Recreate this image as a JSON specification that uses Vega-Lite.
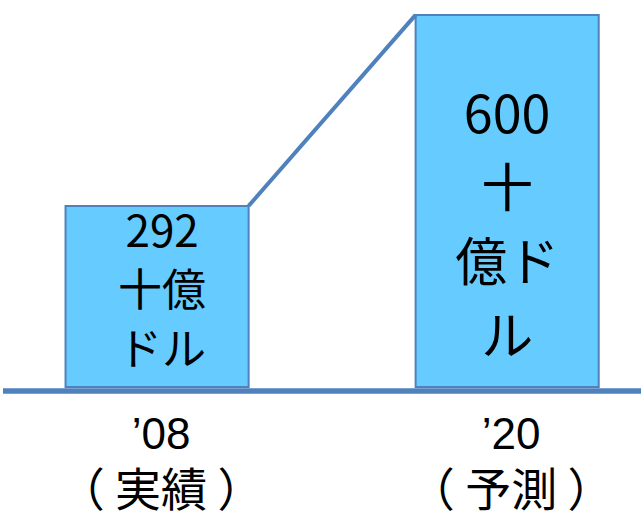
{
  "$schema": "https://vega.github.io/schema/vega-lite/v6.json",
  "width": 641,
  "height": 387,
  "padding": 0,
  "background": "white",
  "config": {"view": {"stroke": null}},
  "datasets": {
    "bars": [
      {"period": "'08", "value": 292, "lines": ["292", "十億", "ドル"], "year": "’08", "note": "（ 実績 ）"},
      {"period": "'20", "value": 600, "lines": ["600", "十", "億ド", "ル"], "year": "’20", "note": "（ 予測 ）"}
    ],
    "link": [
      {"from": "'08", "to": "'20", "v0": 292, "v1": 600}
    ]
  },
  "layer": [
    {
      "data": {"name": "bars"},
      "mark": {"type": "bar", "fill": "#66CCFF", "stroke": "#4F81BD", "strokeWidth": 2},
      "encoding": {
        "x": {"field": "period", "type": "nominal", "axis": null, "sort": null,
              "scale": {"domain": ["'08", "'20"], "paddingInner": 0.477, "paddingOuter": 0.154, "align": 0.58}},
        "y": {"field": "value", "type": "quantitative", "axis": null,
              "scale": {"domain": [0, 624], "nice": false, "zero": true}}
      }
    },
    {
      "data": {"name": "link"},
      "mark": {"type": "rule", "stroke": "#4F81BD", "strokeWidth": 4},
      "encoding": {
        "x": {"field": "from", "type": "nominal", "bandPosition": 1},
        "x2": {"field": "to", "bandPosition": 0},
        "y": {"field": "v0", "type": "quantitative"},
        "y2": {"field": "v1"}
      }
    },
    {
      "data": {"name": "bars"},
      "mark": {"type": "rule", "stroke": "#4F81BD", "strokeWidth": 5, "yOffset": 4},
      "encoding": {"y": {"datum": 0, "type": "quantitative"}}
    },
    {
      "data": {"name": "bars"},
      "transform": [{"filter": "datum.period === \"'08\""}],
      "mark": {"type": "text", "font": "Noto Sans CJK JP", "fontSize": 44, "lineHeight": 59, "baseline": "top", "dy": 6, "dx": 5, "color": "black"},
      "encoding": {
        "x": {"field": "period", "type": "nominal"},
        "y": {"field": "value", "type": "quantitative"},
        "text": {"field": "lines"}
      }
    },
    {
      "data": {"name": "bars"},
      "transform": [{"filter": "datum.period === \"'20\""}],
      "mark": {"type": "text", "font": "Noto Sans CJK JP", "fontSize": 52, "lineHeight": 74, "baseline": "top", "dy": 77, "color": "black"},
      "encoding": {
        "x": {"field": "period", "type": "nominal"},
        "y": {"field": "value", "type": "quantitative"},
        "text": {"field": "lines"}
      }
    },
    {
      "data": {"name": "bars"},
      "mark": {"type": "text", "font": "Liberation Sans", "fontSize": 44, "baseline": "alphabetic", "dy": 62, "dx": 4, "color": "black"},
      "encoding": {
        "x": {"field": "period", "type": "nominal"},
        "y": {"datum": 0, "type": "quantitative"},
        "text": {"field": "year"}
      }
    },
    {
      "data": {"name": "bars"},
      "mark": {"type": "text", "font": "Noto Sans CJK JP", "fontSize": 46, "baseline": "alphabetic", "dy": 119, "dx": 4, "color": "black"},
      "encoding": {
        "x": {"field": "period", "type": "nominal"},
        "y": {"datum": 0, "type": "quantitative"},
        "text": {"field": "note"}
      }
    }
  ]
}
